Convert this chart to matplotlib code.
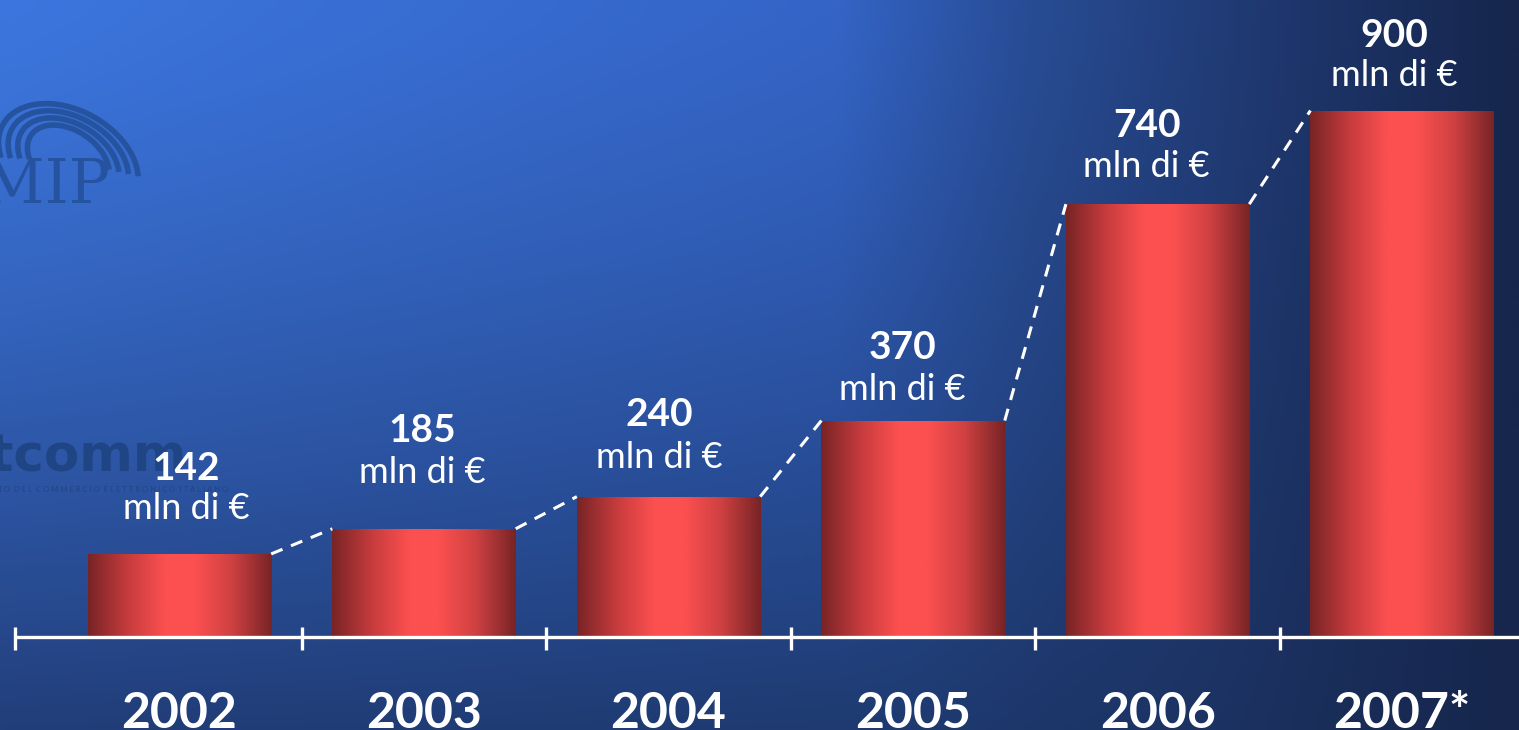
import numpy as np
import matplotlib
matplotlib.use('Agg')
import matplotlib.pyplot as plt
from matplotlib.colors import LinearSegmentedColormap
from matplotlib.patches import Arc

plt.rcParams['font.family'] = ['Lato', 'DejaVu Sans']

# data
years = ['2002', '2003', '2004', '2005', '2006', '2007*']
values = [142, 185, 240, 370, 740, 900]
unit = 'mln di €'

# label placement (pixels above bar top, x shift in pixels)
num_off = [85, 98, 82, 73, 79, 75]
unit_off = [45, 56, 39, 31, 38, 35]
x_shift = [7, -2, -9, -11, -11, -8]

fig = plt.figure(figsize=(15.19, 7.30), dpi=100)
ax = fig.add_axes([0, 0, 1, 1])
ax.set_xlim(-0.734, 5.478)
ax.set_ylim(-159, 1089)
ax.axis('off')

# background gradient
h, w = 200, 300
xx = np.linspace(0, 1, w)
yy = np.linspace(0, 1, h)[:, None]
top_x = [0, 0.55, 0.68, 0.85, 1.0]
top_c = np.array([[60, 118, 222], [52, 100, 198], [40, 76, 148], [30, 54, 108], [22, 38, 76]]) / 255
bot_x = [0, 0.6, 0.8, 1.0]
bot_c = np.array([[34, 62, 122], [30, 58, 112], [28, 50, 98], [22, 38, 76]]) / 255
top = np.stack([np.interp(xx, top_x, top_c[:, k]) for k in range(3)], axis=-1)
bot = np.stack([np.interp(xx, bot_x, bot_c[:, k]) for k in range(3)], axis=-1)
t = yy[..., None] ** 1.3
bg = top[None, :, :] * (1 - t) + bot[None, :, :] * t
ax.imshow(bg, extent=[0, 1, 0, 1], transform=ax.transAxes, aspect='auto', zorder=0)

# faint logos
logo_c = '#2553a0'
ax.text(-0.012, 0.745, 'MIP', transform=ax.transAxes, fontsize=44, family='DejaVu Serif',
        color=logo_c, va='center', zorder=1)
for k in range(4):
    ax.add_patch(Arc((0.045, 0.78), 0.085 - k * 0.012, 0.16 - k * 0.02, angle=15,
                     theta1=-40, theta2=160, transform=ax.transAxes,
                     color=logo_c, lw=4, zorder=1))
ax.text(0.123, 0.374, 'Netcomm', transform=ax.transAxes, fontsize=37, fontweight='bold',
        family='DejaVu Sans', color='#1f4585', ha='right', va='center', zorder=1)
ax.text(0.15, 0.329, 'C O N S O R Z I O  D E L  C O M M E R C I O  E L E T T R O N I C O  I T A L I A N O',
        transform=ax.transAxes, fontsize=5.5, color='#1f4585', ha='right', va='center', zorder=1)

# bars with horizontal gradient
bar_cmap = LinearSegmentedColormap.from_list('bar', [
    (0.0, '#782426'), (0.22, '#c83c3d'), (0.42, '#fc5050'), (0.58, '#fc5050'),
    (0.78, '#d04142'), (1.0, '#782426')])
grad = np.linspace(0, 1, 256)[None, :]
xs = np.arange(len(values))
bars = ax.bar(xs, values, width=0.75, color='none', edgecolor='none', zorder=2)
for b in bars:
    x0, y0 = b.get_x(), b.get_y()
    im = ax.imshow(grad, cmap=bar_cmap, aspect='auto', zorder=2,
                   extent=[x0, x0 + b.get_width(), y0, y0 + b.get_height()])
    im.set_clip_path(b)

# dashed connectors
for i in range(len(values) - 1):
    r = bars[i].get_x() + bars[i].get_width()
    l = bars[i + 1].get_x()
    ax.plot([r, l], [values[i], values[i + 1]], color='white', lw=2.2,
            linestyle=(0, (4, 3)), zorder=3)

# value labels
for i, v in enumerate(values):
    ax.annotate(str(v), (xs[i], v), xytext=(x_shift[i] * 0.72, num_off[i] * 0.72),
                textcoords='offset points', ha='center', va='center',
                fontsize=28, fontweight='bold', color='white', zorder=4)
    ax.annotate(unit, (xs[i], v), xytext=(x_shift[i] * 0.72, unit_off[i] * 0.72),
                textcoords='offset points', ha='center', va='center',
                fontsize=26, color='white', zorder=4)

# axis line and ticks
ticks = [-0.673, 0.5, 1.5, 2.5, 3.5, 4.5]
ax.plot([ticks[0], 5.6], [0, 0], color='white', lw=2.4, zorder=5, solid_capstyle='butt')
for tk in ticks:
    ax.plot([tk, tk], [17, -22], color='white', lw=2.4, zorder=5, solid_capstyle='butt')

for i, y in enumerate(years):
    ax.text(xs[i], -155, y, ha='center', va='baseline', fontsize=36,
            fontweight='bold', color='white', zorder=4)

fig.savefig('out.png', dpi=100)
